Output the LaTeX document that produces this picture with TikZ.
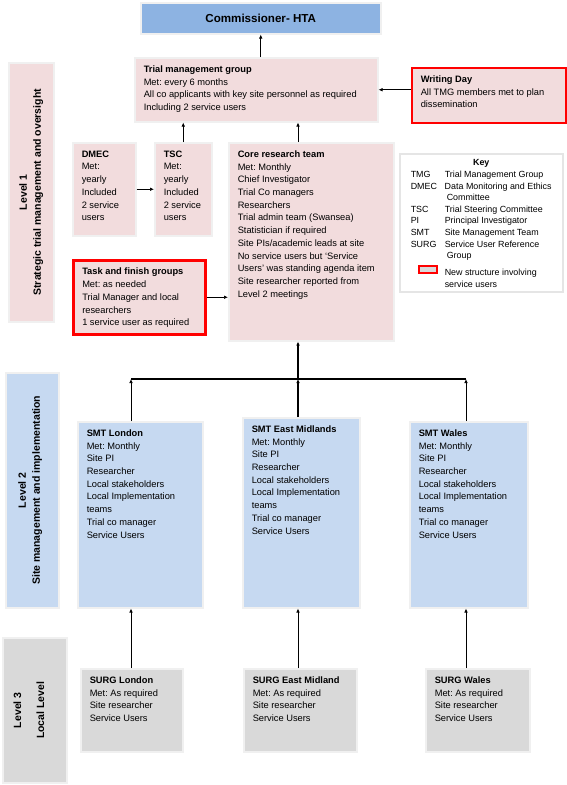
\documentclass[tikz,border=0pt]{standalone}
\usepackage{fontspec}
\setmainfont{Liberation Sans}
\usepackage{tikz}
\usetikzlibrary{shapes,arrows.meta,shadows,positioning}

\definecolor{pinkfill}{RGB}{242,220,221}
\definecolor{bluefill}{RGB}{198,217,241}
\definecolor{hqblue}{RGB}{141,179,226}
\definecolor{greyfill}{RGB}{217,217,217}
\definecolor{newred}{RGB}{255,0,0}

\frenchspacing
\newcommand{\boxtxt}[3]{\parbox[c][#2pt][t]{\dimexpr#1pt-12pt\relax}{\raggedright\vspace*{8pt}#3}}

\begin{document}
\begin{tikzpicture}[x=1pt,y=-1pt,
    card/.style={anchor=north west, inner xsep=9pt, inner ysep=0pt, draw=gray!12, line width=1.5pt,
        drop shadow={shadow xshift=1.5pt, shadow yshift=-1.5pt, fill=gray!75, opacity=1},
        font=\fontsize{9.3}{12.7}\selectfont},
    newcard/.style={card, draw=newred, line width=2.5pt},
    sidetxt/.style={rotate=90, align=center, font=\fontsize{10.5}{14}\selectfont\bfseries},
    arr/.style={-{Latex[length=4pt,width=3.5pt]}, line width=0.7pt},
    bus/.style={line width=1.3pt}]
    \useasboundingbox (0,0) rectangle (567,785);

    % Level 1
    \node [card, fill=hqblue, inner xsep=0pt, minimum width=240, minimum height=31,
        font=\fontsize{11.6}{13}\selectfont\bfseries] (comm) at (140,2) {Commissioner- HTA};
    \node [card, fill=pinkfill] (tmg) at (134,57) {\boxtxt{237}{64}{\textbf{Trial management group}\\
        Met: every 6 months\\All co applicants with key site personnel as required\\Including 2 service users}};
    \node [newcard, fill=pinkfill] (wd) at (410.5,66.5) {\boxtxt{148}{55}{\textbf{Writing Day}\\
        All TMG members met to plan\\dissemination}};
    \node [card, fill=pinkfill, minimum width=45, minimum height=259] (lvl1) at (8,62) {};
    \node [sidetxt] (lvl1txt) at (lvl1.center) {Level 1\\Strategic trial management and oversight};
    \node [card, fill=pinkfill] (dmec) at (72,142) {\boxtxt{57}{93}{\textbf{DMEC}\\Met:\\yearly\\Included\\2 service\\users}};
    \node [card, fill=pinkfill] (tsc) at (154,142) {\boxtxt{51}{93}{\textbf{TSC}\\Met:\\yearly\\Included\\2 service\\users}};
    \node [card, fill=pinkfill] (core) at (228,142) {\boxtxt{159}{198}{\textbf{Core research team}\\
        Met: Monthly\\Chief Investigator\\Trial Co managers\\Researchers\\Trial admin team (Swansea)\\
        Statistician if required\\Site PIs/academic leads at site\\No service users but `Service\\
        Users' was standing agenda item\\Site researcher reported from\\Level 2 meetings}};
    \node [newcard, fill=pinkfill] (task) at (72,259) {\boxtxt{126}{74}{\textbf{Task and finish groups}\\
        Met: as needed\\Trial Manager and local\\researchers\\1 service user as required}};

    % Key
    \node [card, fill=white, draw=gray!20, inner xsep=11pt, font=\fontsize{8.9}{11.6}\selectfont] (key) at (399,153)
        {\parbox[c][138pt][t]{141pt}{\vspace*{6pt}\centering\textbf{Key}\par\raggedright
        \begin{tabular}[t]{@{}p{34pt}@{}l@{}}
            TMG & Trial Management Group\\
            DMEC & Data Monitoring and Ethics\\
             & \hspace{2pt}Committee\\
            TSC & Trial Steering Committee\\
            PI & Principal Investigator\\
            SMT & Site Management Team\\
            SURG & Service User Reference\\
             & \hspace{2pt}Group\\[5.4pt]
             & New structure involving\\
             & service users
        \end{tabular}}};
    \node [draw=newred, line width=1.6pt, fill=greyfill, minimum width=18, minimum height=7, inner sep=0pt] (swatch) at (428,269.5) {};

    % Level 2
    \node [card, fill=bluefill, minimum width=53, minimum height=235] (lvl2) at (5,372) {};
    \node [sidetxt] (lvl2txt) at ([xshift=-2pt]lvl2.center) {Level 2\\Site management and implementation};
    \node [card, fill=bluefill] (lon) at (77,421) {\boxtxt{119}{186}{\textbf{SMT London}\\Met: Monthly\\Site PI\\
        Researcher\\Local stakeholders\\Local Implementation\\teams\\Trial co manager\\Service Users}};
    \node [card, fill=bluefill] (em) at (242,417) {\boxtxt{111}{190}{\textbf{SMT East Midlands}\\Met: Monthly\\Site PI\\
        Researcher\\Local stakeholders\\Local Implementation\\teams\\Trial co manager\\Service Users}};
    \node [card, fill=bluefill] (wal) at (409,421) {\boxtxt{112}{186}{\textbf{SMT Wales}\\Met: Monthly\\Site PI\\
        Researcher\\Local stakeholders\\Local Implementation\\teams\\Trial co manager\\Service Users}};

    % Level 3
    \node [card, fill=greyfill, minimum width=64, minimum height=145] (lvl3) at (2,637) {};
    \node [sidetxt] (lvl3txt) at ([xshift=-6pt]lvl3.center) {Level 3\\[9pt]Local Level};
    \node [card, fill=greyfill] (surgLon) at (80,668) {\boxtxt{96}{83}{\textbf{SURG London}\\
        Met: As required\\Site researcher\\Service Users}};
    \node [card, fill=greyfill] (surgEM) at (243,668) {\boxtxt{107}{83}{\textbf{SURG East Midland}\\
        Met: As required\\Site researcher\\Service Users}};
    \node [card, fill=greyfill] (surgWal) at (425,668) {\boxtxt{98}{83}{\textbf{SURG Wales}\\
        Met: As required\\Site researcher\\Service Users}};

    % Draw the connectors
    \coordinate (busL) at (131,379);
    \coordinate (busM) at (298,379);
    \coordinate (busR) at (466,379);
    \draw [arr] (comm.south |- tmg.north) -- (comm.south);
    \draw [arr] (wd.west |- tmg.east) -- (tmg.east);
    \draw [arr] (dmec.east) -- (tsc.west);
    \draw [arr] (tsc.north) -- (tsc.north |- tmg.south);
    \draw [arr] (busM |- core.north) -- (busM |- tmg.south);
    \draw [arr] (task.east) -- (task.east -| core.west);
    \draw [bus] (busL) -- (busR);
    \draw [arr] (lon.north -| busL) -- (busL);
    \draw [arr] (wal.north -| busR) -- (busR);
    \draw [arr,bus] (em.north -| busM) -- (busM);
    \draw [arr,bus] (busM) -- (busM |- core.south);
    \draw [arr] (surgLon.north -| busL) -- (lon.south -| busL);
    \draw [arr] (surgEM.north -| busM) -- (em.south -| busM);
    \draw [arr] (surgWal.north -| busR) -- (wal.south -| busR);

\end{tikzpicture}
\end{document}
